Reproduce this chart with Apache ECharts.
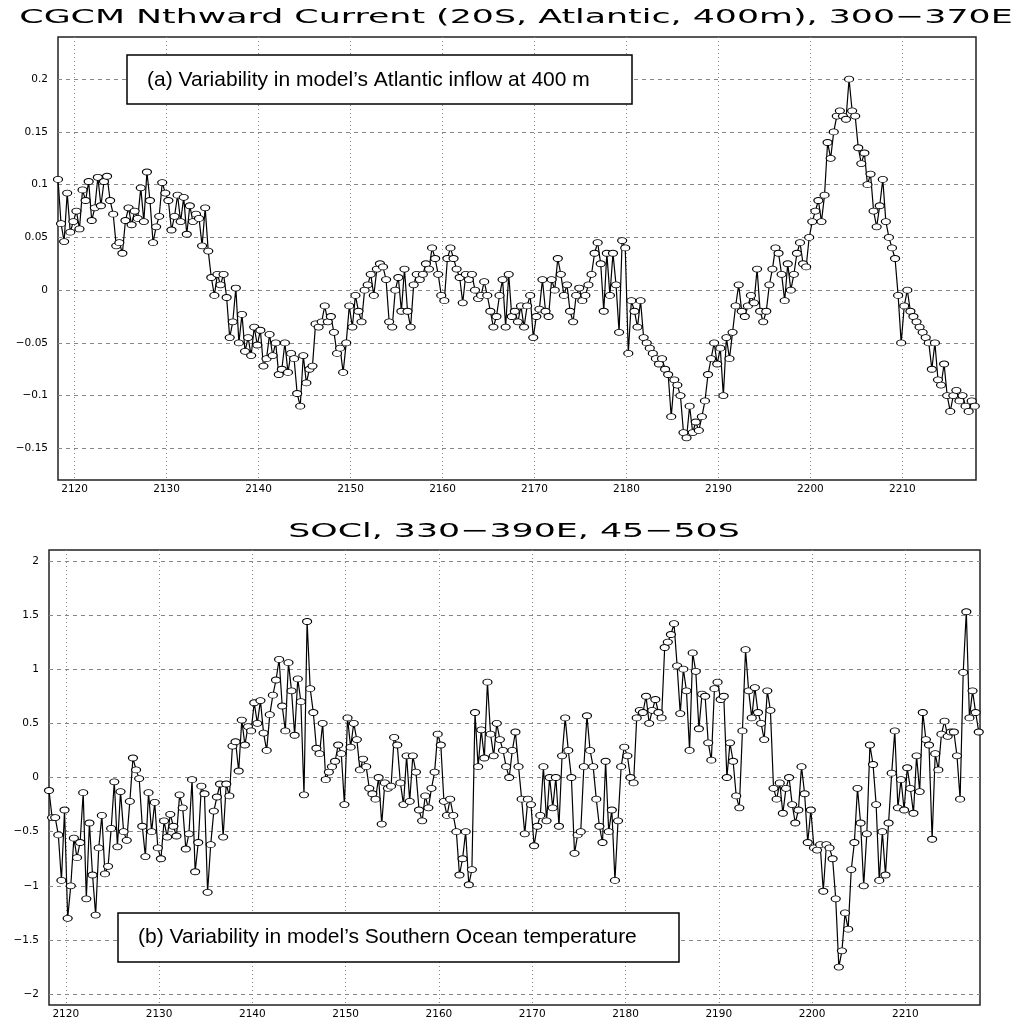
<!DOCTYPE html>
<html>
<head>
<meta charset="utf-8">
<script src="https://cdn.jsdelivr.net/npm/echarts@6/dist/echarts.min.js"></script>
<style>
  html, body { margin: 0; padding: 0; background: #fff; }
  #chart { width: 1016px; height: 1021px; }
</style>
</head>
<body>
<div id="chart"></div>
<script>
// time axis: 3 samples per year starting at 2118.2
const startYear = 2118.2;
const stepsPerYear = 3;

const yearTicks = [2120, 2130, 2140, 2150, 2160, 2170, 2180, 2190, 2200, 2210];
const currentTicks = [-0.15, -0.1, -0.05, 0, 0.05, 0.1, 0.15, 0.2];
const sociTicks = [-2, -1.5, -1, -0.5, 0, 0.5, 1, 1.5, 2];

// (a) CGCM northward current, 20S Atlantic 400m
const currentVals = [
  0.105, 0.063, 0.046,  0.092, 0.055, 0.065,  0.075, 0.058, 0.095,  0.085, 0.103, 0.066,
  0.078, 0.107, 0.08,   0.103, 0.108, 0.085,  0.072, 0.042, 0.045,  0.035, 0.066, 0.078,
  0.062, 0.075, 0.068,  0.097, 0.065, 0.112,  0.085, 0.045, 0.06,   0.07, 0.102, 0.092,
  0.085, 0.057, 0.07,   0.09, 0.065, 0.088,   0.053, 0.08, 0.065,   0.072, 0.068, 0.042,
  0.078, 0.037, 0.012,  -0.005, 0.015, 0.005, 0.015, -0.007, -0.045, -0.03, 0.002, -0.05,
  -0.023, -0.058, -0.045, -0.062, -0.035, -0.052, -0.038, -0.072, -0.065, -0.042, -0.062, -0.05,
  -0.08, -0.075, -0.05, -0.078, -0.06, -0.065, -0.098, -0.11, -0.062, -0.088, -0.075, -0.072,
  -0.032, -0.035, -0.03, -0.015, -0.03, -0.025, -0.04, -0.06, -0.055, -0.078, -0.05, -0.015,
  -0.035, -0.005, -0.02, -0.03, 0.0, 0.005,  0.015, -0.005, 0.02,  0.025, 0.022, 0.01,
  -0.03, -0.035, 0.0,  0.012, -0.02, 0.02,  -0.02, -0.035, 0.005,  0.015, 0.01, 0.015,
  0.025, 0.02, 0.04,  0.03, 0.015, -0.005,  -0.01, 0.03, 0.04,  0.03, 0.02, 0.012,
  -0.012, 0.015, 0.01,  0.015, 0.0, -0.008,  -0.005, 0.008, -0.005,  -0.02, -0.035, -0.025,
  -0.005, 0.01, -0.035,  0.015, -0.025, -0.02,  -0.03, -0.015, -0.035,  -0.015, -0.005, -0.045,
  -0.025, -0.018, 0.01,  -0.02, -0.025, 0.01,  0.0, 0.03, 0.015,  -0.005, 0.005, -0.02,
  -0.03, -0.005, 0.002,  -0.01, -0.005, 0.005,  0.015, 0.035, 0.045,  0.025, -0.02, 0.035,
  -0.005, 0.035, 0.005,  -0.04, 0.047, 0.04,  -0.06, -0.01, -0.02,  -0.035, -0.01, -0.045,
  -0.05, -0.055, -0.06,  -0.065, -0.07, -0.065,  -0.075, -0.08, -0.12,  -0.085, -0.09, -0.1,
  -0.135, -0.14, -0.11,  -0.135, -0.125, -0.133,  -0.12, -0.105, -0.08,  -0.065, -0.05, -0.07,
  -0.055, -0.1, -0.045,  -0.065, -0.04, -0.015,  0.005, -0.02, -0.025,  -0.015, -0.005, -0.012,
  0.02, -0.02, -0.03,  -0.02, 0.005, 0.02,  0.04, 0.035, 0.015,  -0.01, 0.025, 0.0,
  0.015, 0.035, 0.045,  0.025, 0.022, 0.05,  0.065, 0.075, 0.085,  0.065, 0.09, 0.14,
  0.125, 0.15, 0.165,  0.17, 0.165, 0.162,  0.2, 0.17, 0.165,  0.135, 0.12, 0.13,
  0.1, 0.11, 0.075,  0.06, 0.08, 0.105,  0.065, 0.05, 0.04,  0.03, -0.005, -0.05,
  -0.015, 0.0, -0.02,  -0.025, -0.03, -0.035,  -0.04, -0.045, -0.05,  -0.075, -0.05, -0.085,
  -0.09, -0.07, -0.1,  -0.115, -0.1, -0.095,  -0.105, -0.1, -0.11,  -0.115, -0.105, -0.11
];

// (b) SOCI, 330-390E, 45-50S
const sociVals = [
  -0.12, -0.37, -0.37,  -0.53, -0.95, -0.3,  -1.3, -1.0, -0.56,  -0.74, -0.6, -0.14,
  -1.12, -0.42, -0.9,  -1.27, -0.65, -0.35,  -0.89, -0.82, -0.47,  -0.04, -0.64, -0.13,
  -0.5, -0.58, -0.22,  0.18, 0.07, -0.01,  -0.45, -0.73, -0.14,  -0.5, -0.23, -0.65,
  -0.75, -0.4, -0.55,  -0.34, -0.45, -0.54,  -0.16, -0.28, -0.66,  -0.52, -0.02, -0.87,
  -0.6, -0.08, -0.15,  -1.06, -0.62, -0.31,  -0.18, -0.06, -0.55,  -0.06, -0.17, 0.29,
  0.33, 0.06, 0.53,  0.3, 0.47, 0.43,  0.69, 0.5, 0.71,  0.41, 0.25, 0.58,
  0.76, 0.9, 1.09,  0.66, 0.43, 1.06,  0.8, 0.39, 0.91,  0.7, -0.16, 1.44,
  0.82, 0.6, 0.27,  0.22, 0.5, -0.02,  0.05, 0.1, 0.15,  0.3, 0.22, -0.25,
  0.55, 0.28, 0.5,  0.35, 0.07, 0.17,  0.1, -0.1, -0.15,  -0.2, 0.0, -0.43,
  -0.05, -0.1, -0.08,  0.37, 0.3, -0.05,  -0.25, 0.2, -0.22,  0.2, 0.05, -0.3,
  -0.4, -0.17, -0.28,  -0.1, 0.05, 0.4,  0.3, -0.22, -0.35,  -0.2, -0.35, -0.5,
  -0.9, -0.75, -0.5,  -0.99, -0.85, 0.6,  0.1, 0.44, 0.18,  0.88, 0.4, 0.2,
  0.5, 0.35, 0.25,  0.1, 0.0, 0.25,  0.42, 0.1, -0.2,  -0.52, -0.2, -0.25,
  -0.63, -0.45, -0.35,  0.1, -0.4, 0.0,  -0.28, 0.0, -0.45,  0.2, 0.55, 0.25,
  0.0, -0.7, -0.53,  -0.5, 0.1, 0.57,  0.25, 0.1, -0.2,  -0.45, -0.6, 0.15,
  -0.5, -0.3, -0.95,  -0.4, 0.1, 0.28,  0.2, 0.0, -0.05,  0.55, 0.62, 0.6,
  0.75, 0.5, 0.62,  0.72, 0.6, 0.55,  1.2, 1.25, 1.32,  1.42, 1.03, 0.59,
  1.0, 0.8, 0.25,  1.15, 0.98, 0.45,  0.77, 0.75, 0.32,  0.16, 0.82, 0.88,
  0.72, 0.75, 0.0,  0.32, 0.15, -0.17,  -0.28, 0.43, 1.18,  0.8, 0.55, 0.83,
  0.6, 0.5, 0.35,  0.8, 0.62, -0.1,  -0.2, -0.05, -0.33,  -0.1, 0.0, -0.25,
  -0.42, -0.3, 0.1,  -0.15, -0.6, -0.3,  -0.65, -0.67, -0.62,  -1.05, -0.62, -0.65,
  -0.75, -1.12, -1.75,  -1.6, -1.25, -1.4,  -0.85, -0.6, -0.1,  -0.42, -1.0, -0.52,
  0.3, 0.12, -0.25,  -0.95, -0.5, -0.9,  -0.42, 0.04, 0.43,  -0.28, -0.02, -0.3,
  0.09, -0.1, -0.33,  0.2, -0.13, 0.6,  0.35, 0.3, -0.57,  0.22, 0.07, 0.4,
  0.52, 0.38, 0.42,  0.42, 0.2, -0.2,  0.97, 1.53, 0.55,  0.8, 0.6, 0.42
];

function toPairs(vals) {
  return vals.map((v, i) => [startYear + i / stepsPerYear, v]);
}
function fmt(v) {
  return String(v).replace('-', '\u2212');
}

const chartDom = document.getElementById('chart');
const myChart = echarts.init(chartDom);

const labelFont = { color: '#000', fontFamily: 'DejaVu Sans', fontSize: 10.5 };

function xAxisFor(gridIndex) {
  return {
    type: 'value',
    gridIndex: gridIndex,
    min: startYear,
    max: 2218,
    axisLine: { show: false },
    axisTick: { show: false, customValues: yearTicks },
    axisLabel: Object.assign({ customValues: yearTicks, margin: 4, formatter: v => String(v) }, labelFont),
    splitLine: { show: true, lineStyle: { color: '#888', type: [1, 3], width: 1 } }
  };
}
function yAxisFor(gridIndex, min, max, ticks) {
  return {
    type: 'value',
    gridIndex: gridIndex,
    min: min,
    max: max,
    axisLine: { show: false },
    axisTick: { show: false, customValues: ticks },
    axisLabel: Object.assign({ customValues: ticks, margin: 10, formatter: fmt }, labelFont),
    splitLine: { show: true, lineStyle: { color: '#888', type: [4, 4], width: 1 } }
  };
}
function lineSeries(idx, vals) {
  return {
    type: 'line',
    xAxisIndex: idx,
    yAxisIndex: idx,
    data: toPairs(vals),
    symbol: 'circle',
    symbolSize: [9, 6],
    lineStyle: { color: '#000', width: 1.2 },
    itemStyle: { color: '#fff', borderColor: '#000', borderWidth: 1 },
    z: 3
  };
}

let option = {
  backgroundColor: '#fff',
  animation: false,
  grid: [
    { left: 58, right: 40, top: 37, height: 443, show: true, borderColor: '#222', borderWidth: 1.5 },
    { left: 49, right: 36, top: 550, height: 455, show: true, borderColor: '#222', borderWidth: 1.5 }
  ],
  xAxis: [xAxisFor(0), xAxisFor(1)],
  yAxis: [
    yAxisFor(0, -0.18, 0.24, currentTicks),
    yAxisFor(1, -2.1, 2.1, sociTicks)
  ],
  series: [lineSeries(0, currentVals), lineSeries(1, sociVals)],
  graphic: [
    {
      type: 'text', x: 516, y: 18, scaleX: 1.74,
      style: { text: 'CGCM Nthward Current (20S, Atlantic, 400m), 300\u2212370E', fill: '#000',
        font: '20px "DejaVu Sans"', textAlign: 'center', textVerticalAlign: 'middle' }
    },
    {
      type: 'text', x: 514, y: 532, scaleX: 1.74,
      style: { text: 'SOCl, 330\u2212390E, 45\u221250S', fill: '#000',
        font: '20px "DejaVu Sans"', textAlign: 'center', textVerticalAlign: 'middle' }
    },
    {
      type: 'rect', shape: { x: 127, y: 55, width: 505, height: 49 },
      style: { fill: '#fff', stroke: '#000', lineWidth: 1.5 }, z: 10
    },
    {
      type: 'text', x: 147, y: 80, z: 11,
      style: { text: '(a) Variability in model\u2019s Atlantic inflow at 400 m', fill: '#000',
        font: '21px "Liberation Sans"', textAlign: 'left', textVerticalAlign: 'middle' }
    },
    {
      type: 'rect', shape: { x: 118, y: 913, width: 561, height: 49 },
      style: { fill: '#fff', stroke: '#000', lineWidth: 1.5 }, z: 10
    },
    {
      type: 'text', x: 138, y: 937, z: 11,
      style: { text: '(b) Variability in model\u2019s Southern Ocean temperature', fill: '#000',
        font: '21px "Liberation Sans"', textAlign: 'left', textVerticalAlign: 'middle' }
    }
  ]
};

option && myChart.setOption(option);
</script>
</body>
</html>
